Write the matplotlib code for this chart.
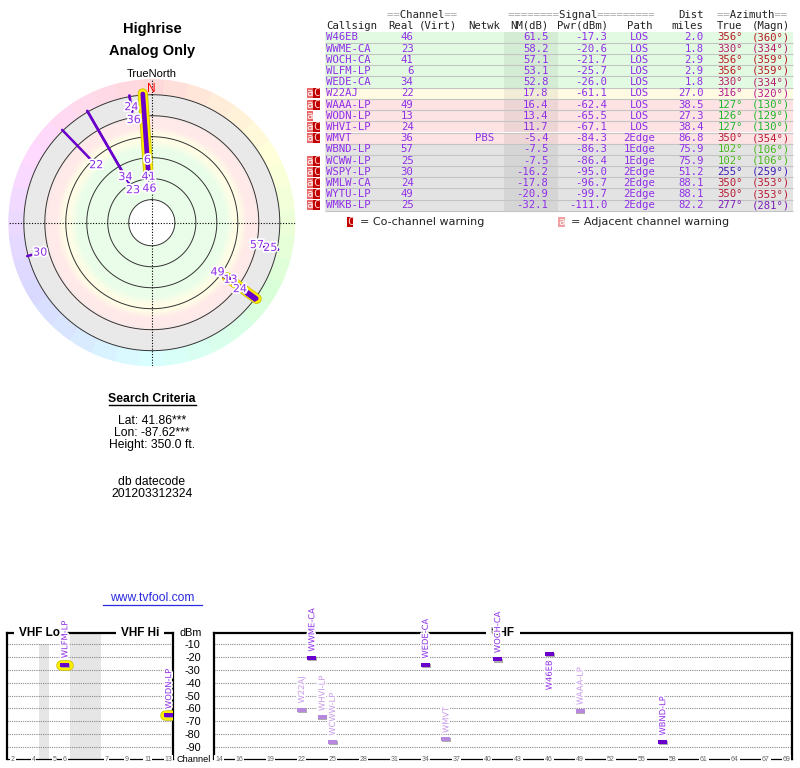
import colorsys
import numpy as np
import matplotlib.pyplot as plt
import matplotlib.patheffects as pe

plt.rcParams["font.family"] = ["Liberation Sans", "DejaVu Sans"]

# -----------------------------
# Station data
# -----------------------------
callsign = ["W46EB", "WWME-CA", "WOCH-CA", "WLFM-LP", "WEDE-CA", "W22AJ", "WAAA-LP", "WODN-LP",
            "WHVI-LP", "WMVT", "WBND-LP", "WCWW-LP", "WSPY-LP", "WMLW-CA", "WYTU-LP", "WMKB-LP"]
real_ch = [46, 23, 41, 6, 34, 22, 49, 13, 24, 36, 57, 25, 30, 24, 49, 25]
netwk = ["", "", "", "", "", "", "", "", "", "PBS", "", "", "", "", "", ""]
nm_db = [61.5, 58.2, 57.1, 53.1, 52.8, 17.8, 16.4, 13.4, 11.7, -5.4, -7.5, -7.5, -16.2, -17.8, -20.9, -32.1]
pwr_dbm = [-17.3, -20.6, -21.7, -25.7, -26.0, -61.1, -62.4, -65.5, -67.1, -84.3, -86.3, -86.4,
           -95.0, -96.7, -99.7, -111.0]
path = ["LOS"] * 9 + ["2Edge", "1Edge", "1Edge", "2Edge", "2Edge", "2Edge", "2Edge"]
dist_mi = [2.0, 1.8, 2.9, 2.9, 1.8, 27.0, 38.5, 27.3, 38.4, 86.8, 75.9, 75.9, 51.2, 88.1, 88.1, 82.2]
az_true = [356, 330, 356, 356, 330, 316, 127, 126, 127, 350, 102, 102, 255, 350, 350, 277]
az_magn = [360, 334, 359, 359, 334, 320, 130, 129, 130, 354, 106, 106, 259, 353, 353, 281]
warn = ["", "", "", "", "", "aC", "aC", "a", "aC", "aC", "", "aC", "aC", "aC", "aC", "aC"]
row_zone = ["green"] * 5 + ["yellow"] + ["pink"] * 4 + ["gray"] * 6
analog = ["WLFM-LP", "WODN-LP"]

ring_nm = [80, 60, 40, 20, 0, -20]
dbm_levels = [-10, -20, -30, -40, -50, -60, -70, -80, -90]
vhf_ticks = [2, 4, 5, 6, 7, 9, 11, 13]
uhf_ticks = [14, 16, 19, 22, 25, 28, 31, 34, 37, 40, 43, 46, 49, 52, 55, 58, 61, 64, 67, 69]

# -----------------------------
# Layout / style
# -----------------------------
W, H = 800, 768
MONO = "DejaVu Sans Mono"
TXT = "#8f2fe8"
LIGHT_TXT = "#c79ae8"
LINE = "#6a00cc"
LIGHT_BAR = "#b888de"
halo = [pe.withStroke(linewidth=2.5, foreground="white")]

row_col = {"green": "#e2fae2", "yellow": "#fffbe3", "pink": "#fde3e3", "gray": "#e3e3e3"}

# label shifts along the radial line (radial units), default inward
label_shift = {"WOCH-CA": -1, "WLFM-LP": 11, "WEDE-CA": 1, "WAAA-LP": -7, "WODN-LP": 4,
               "WHVI-LP": 15, "WBND-LP": -7, "WCWW-LP": 6}


def box(left, top, w, h):
    return [left / W, 1 - (top + h) / H, w / W, h / H]


fig = plt.figure(figsize=(W / 100, H / 100), dpi=100)

# pixel overlay for texts and the table
tx = fig.add_axes([0, 0, 1, 1])
tx.set_xlim(0, W)
tx.set_ylim(H, 0)
tx.axis("off")

tx.text(152, 29.5, "Highrise", ha="center", va="center", fontsize=10.5, fontweight="bold")
tx.text(152, 51.5, "Analog Only", ha="center", va="center", fontsize=10.5, fontweight="bold")
tx.text(152, 74, "TrueNorth", ha="center", va="center", fontsize=8)

tx.text(152, 398.5, "Search Criteria", ha="center", va="center", fontsize=8.8, fontweight="bold")
tx.plot([108.5, 195.5], [405, 405], color="black", lw=1)
for y, s in [(420.7, "Lat: 41.86***"), (432.5, "Lon: -87.62***"), (444.7, "Height: 350.0 ft."),
             (481.7, "db datecode"), (494.3, "201203312324")]:
    tx.text(152, y, s, ha="center", va="center", fontsize=8.7)
tx.text(152, 598, "www.tvfool.com", ha="center", va="center", fontsize=8.7, color="#2a2ae0")
tx.plot([103, 201.5], [604.5, 604.5], color="#2a2ae0", lw=0.9)

# -----------------------------
# Table
# -----------------------------
ROW0, ROWH = 37.3, 11.2
row_y = ROW0 + ROWH * np.arange(len(callsign))
tx.barh(row_y, 468, left=325, height=ROWH, color=[row_col[z] for z in row_zone], linewidth=0)
tx.barh(row_y, 54, left=504, height=ROWH, color="black", alpha=0.06, linewidth=0)
tx.hlines(row_y + ROWH / 2, 325, 793, color="#c4c4c4", lw=0.8)

fs = 7.7
hdr = "#222222"
tx.text(387.3, 15, "==       ==", family=MONO, fontsize=fs, color="#aaaaaa", va="center")
tx.text(387.3, 15, "  Channel  ", family=MONO, fontsize=fs, color=hdr, va="center")
tx.text(508.3, 15, "========      =========", family=MONO, fontsize=fs, color="#aaaaaa", va="center")
tx.text(508.3, 15, "        Signal         ", family=MONO, fontsize=fs, color=hdr, va="center")
tx.text(703.5, 15, "Dist", family=MONO, fontsize=fs, color=hdr, va="center", ha="right")
tx.text(717.3, 15, "==       ==", family=MONO, fontsize=fs, color="#aaaaaa", va="center")
tx.text(717.3, 15, "  Azimuth  ", family=MONO, fontsize=fs, color=hdr, va="center")

headers = [(326, "Callsign", "left"), (413.5, "Real", "right"), (418.3, "(Virt)", "left"),
           (468.3, "Netwk", "left"), (548.5, "NM(dB)", "right"), (607.5, "Pwr(dBm)", "right"),
           (639.5, "Path", "center"), (703.5, "miles", "right"), (717.3, "True", "left"),
           (751.7, "(Magn)", "left")]
for x, s, ha in headers:
    tx.text(x, 25.8, s, family=MONO, fontsize=fs, color=hdr, va="center", ha=ha)

for i, y in enumerate(row_y):
    kw = dict(family=MONO, fontsize=fs, va="center", color=TXT)
    tx.text(326, y, callsign[i], ha="left", **kw)
    tx.text(413.5, y, str(real_ch[i]), ha="right", **kw)
    tx.text(475, y, netwk[i], ha="left", **kw)
    tx.text(548.5, y, f"{nm_db[i]:.1f}", ha="right", **kw)
    tx.text(607.5, y, f"{pwr_dbm[i]:.1f}", ha="right", **kw)
    tx.text(639.5, y, path[i], ha="center", **kw)
    tx.text(703.5, y, f"{dist_mi[i]:.1f}", ha="right", **kw)
    azc = colorsys.hsv_to_rgb(az_true[i] / 360, 0.85, 0.72)
    kw["color"] = azc
    tx.text(717.3, y, f"{az_true[i]}°", ha="left", **kw)
    tx.text(751.7, y, f"({az_magn[i]}°)", ha="left", **kw)
    # warning flags
    if "a" in warn[i]:
        tx.bar(309.8, 10, bottom=y - 5, width=6.6, color="#e86a6a", linewidth=0)
        tx.text(309.8, y, "a", family=MONO, fontsize=fs, color="white", ha="center", va="center")
    if "C" in warn[i]:
        tx.bar(316.6, 10, bottom=y - 5, width=6.6, color="#c00000", linewidth=0)
        tx.text(316.6, y, "C", family=MONO, fontsize=fs, color="#ffd0d0", ha="center", va="center")

# legend for the flags
tx.bar(350, 10, bottom=217.3, width=6.6, color="#c00000", linewidth=0)
tx.text(350, 222.3, "C", family=MONO, fontsize=fs, color="#ffd0d0", ha="center", va="center")
tx.text(360, 222.3, "= Co-channel warning", family="DejaVu Sans", fontsize=8, color="#222", va="center")
tx.bar(561.5, 10, bottom=217.3, width=6.6, color="#f0a0a0", linewidth=0)
tx.text(561.5, 222.3, "a", family=MONO, fontsize=fs, color="white", ha="center", va="center")
tx.text(570.7, 222.3, "= Adjacent channel warning", family="DejaVu Sans", fontsize=8, color="#222",
        va="center")

# -----------------------------
# Polar plot (radius = 102 - NM)
# -----------------------------
PX = 1.049
RMAX = 137
R_OUT = 102 - ring_nm[-1]
R_IN = 102 - ring_nm[0]
cx, cy = 151.8, 222.7
pax = fig.add_axes(box(cx - RMAX * PX, cy - RMAX * PX, 2 * RMAX * PX, 2 * RMAX * PX), projection="polar")
pax.set_theta_zero_location("N")
pax.set_theta_direction(-1)
pax.set_ylim(0, RMAX)
pax.axis("off")

# azimuth coloured rim
rim_az = np.arange(0, 360, 10)
rim_c = [colorsys.hsv_to_rgb(a / 360, 0.15, 1.0) for a in rim_az]
pax.bar(np.radians(rim_az), RMAX - R_OUT, width=np.radians(10.2), bottom=R_OUT, color=rim_c,
        linewidth=0)

# signal zones with soft edges
stops_r = [R_IN, 70, 78, 84, 91, 99, 105, R_OUT]
stops_c = ["#e4fde4", "#e4fde4", "#fffde0", "#fffde0", "#ffe4e4", "#ffe4e4", "#e4e4e4", "#e4e4e4"]
stops_rgb = np.array([plt.matplotlib.colors.to_rgb(c) for c in stops_c])
rg = np.linspace(R_IN, R_OUT, 201)
cols = np.stack([np.interp(rg[:-1], stops_r, stops_rgb[:, k]) for k in range(3)], axis=1)
pax.bar(np.zeros(len(rg) - 1), np.diff(rg) + 0.05, width=2 * np.pi, bottom=rg[:-1], color=cols,
        linewidth=0)

th_full = np.linspace(0, 2 * np.pi, 361)
for nm in ring_nm:
    pax.plot(th_full, np.full_like(th_full, 102 - nm), color="#333333", lw=0.7, zorder=3)
for a in [0, 90, 180, 270]:
    pax.plot([np.radians(a)] * 2, [0, RMAX], color="black", lw=0.8, ls=(0, (1, 1.5)), zorder=3)

r_end = 102 - np.array(nm_db)
for i in range(len(callsign)):
    if r_end[i] >= R_OUT:
        continue
    th = np.radians(az_true[i])
    if callsign[i] in analog:
        pax.plot([th, th], [r_end[i], R_OUT + 1.5], color="#ffee00", lw=6.2, solid_capstyle="round",
                 zorder=4, path_effects=[pe.Stroke(linewidth=7.4, foreground="#c8c000"), pe.Normal()])
for i in range(len(callsign)):
    if r_end[i] >= R_OUT:
        continue
    th = np.radians(az_true[i])
    lw = 3.4 if callsign[i] in analog else 1.8
    pax.plot([th, th], [r_end[i], R_OUT + 1], color=LINE, lw=lw, solid_capstyle="round", zorder=5)
for i in range(len(callsign)):
    if r_end[i] >= R_OUT:
        continue
    th = np.radians(az_true[i])
    rl = r_end[i] + label_shift.get(callsign[i], -8)
    pax.text(th, rl, str(real_ch[i]), color=TXT, fontsize=8, family="DejaVu Sans", ha="center",
             va="center", zorder=6, path_effects=halo)

pax.text(0, 127, "N", color="red", fontsize=8.5, ha="center", va="center", zorder=6)

# -----------------------------
# Spectrum panels
# -----------------------------
vhf_slot = {2: 0, 3: 1, 4: 2, 5: 4, 6: 5, 7: 9, 8: 10, 9: 11, 10: 12, 11: 13, 12: 14, 13: 15}

vax = fig.add_axes(box(6.7, 633, 166.6, 126.4))
uax = fig.add_axes(box(214.3, 633, 577.4, 126.4))
vax.set_xlim(-0.6, 15.45)
uax.set_xlim(13.55, 69.5)

for ax in (vax, uax):
    ax.set_ylim(-100, -1)
    ax.set_yticks(dbm_levels)
    ax.set_xticks([])
    ax.grid(axis="y", color="#888888", lw=0.8, ls=(0, (1, 1)))
    ax.set_axisbelow(True)
    for s in ("left", "top", "right"):
        ax.spines[s].set_linewidth(1.6)
    ax.spines["bottom"].set_linewidth(0.9)
    ax.tick_params(axis="y", length=0)

vax.set_yticklabels([])
uax.set_yticklabels([str(v) for v in dbm_levels])
uax.tick_params(axis="y", pad=9.8, labelsize=7.8)

vax.axvspan(2.5, 3.5, color="#e6e6e6", lw=0, zorder=0)
vax.axvspan(5.5, 8.5, color="#e6e6e6", lw=0, zorder=0)

tick_kw = dict(ha="center", va="center", fontsize=5, color="#666666", zorder=4,
               bbox=dict(facecolor="white", edgecolor="none", pad=0.6))
for c in vhf_ticks:
    vax.text(vhf_slot[c], -100, str(c), **tick_kw)
for c in uhf_ticks:
    uax.text(c, -100, str(c), **tick_kw)

title_kw = dict(ha="center", va="center", fontsize=8.5, fontweight="bold", zorder=4,
                bbox=dict(facecolor="white", edgecolor="none", pad=3.5))
vax.text(2.56, -1, "VHF Lo", **title_kw)
vax.text(12.24, -1, "VHF Hi", **title_kw)
uax.text(41.5, -1, "UHF", **title_kw)

tx.text(201.5, 632.8, "dBm", ha="right", va="center", fontsize=7.8)
tx.text(194, 759.2, "Channel", ha="center", va="center", fontsize=6.6)

for i in range(len(callsign)):
    if pwr_dbm[i] < -90:
        continue
    ch = real_ch[i]
    ax, x = (vax, vhf_slot[ch]) if ch <= 13 else (uax, ch)
    weak = "C" in warn[i]
    col = LIGHT_BAR if weak else LINE
    if callsign[i] in analog:
        ax.plot([x - 0.35, x + 0.35], [pwr_dbm[i]] * 2, color="#ffee00", lw=6.5, solid_capstyle="round",
                zorder=4, path_effects=[pe.Stroke(linewidth=7.6, foreground="#c8c000"), pe.Normal()])
    ax.bar(x, 3.1, bottom=pwr_dbm[i] - 1.55, width=0.87, color=col, zorder=5,
           path_effects=[pe.SimplePatchShadow(offset=(0.6, -0.8), shadow_rgbFace="#999999", alpha=0.8),
                         pe.Normal()])
    below = pwr_dbm[i] > -19
    ly = pwr_dbm[i] - 5 if below else pwr_dbm[i] + 5
    ax.text(x, ly, callsign[i], rotation=90, ha="center", va="top" if below else "bottom",
            fontsize=6, family="DejaVu Sans", color=LIGHT_TXT if weak else TXT, zorder=6,
            path_effects=halo)

fig.savefig("out.png", dpi=100)
